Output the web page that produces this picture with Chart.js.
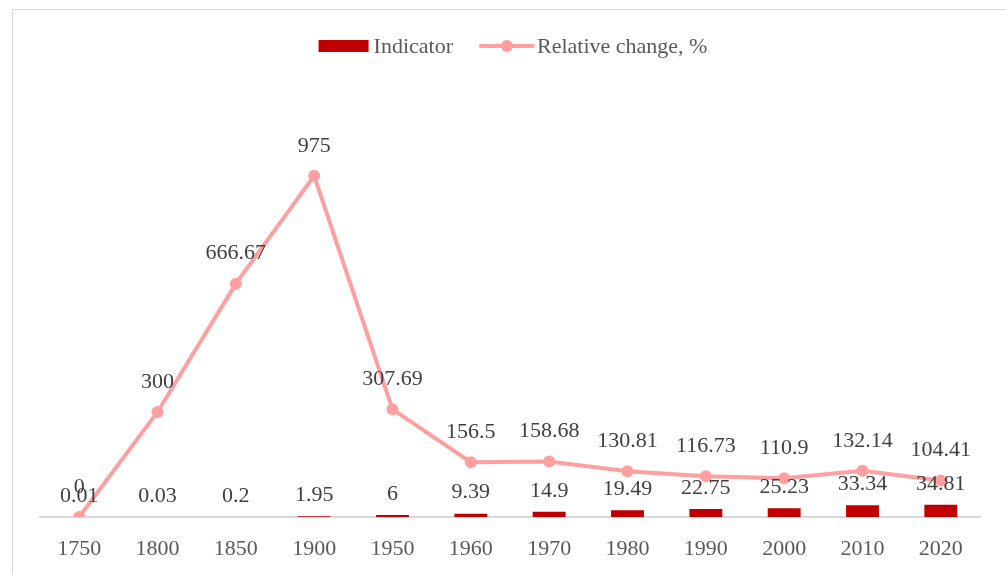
<!DOCTYPE html>
<html>
<head>
<meta charset="utf-8">
<script src="https://cdn.jsdelivr.net/npm/chart.js@4.4.0/dist/chart.umd.min.js"></script>
<style>
  html, body { margin: 0; padding: 0; background: #ffffff; }
  #wrap { width: 1006px; height: 575px; }
</style>
</head>
<body>
<div id="wrap"><canvas id="grafico" width="1006" height="575"></canvas></div>
<script>
const anos = ["1750", "1800", "1850", "1900", "1950", "1960", "1970", "1980", "1990", "2000", "2010", "2020"];
const indicador = [0.01, 0.03, 0.2, 1.95, 6, 9.39, 14.9, 19.49, 22.75, 25.23, 33.34, 34.81];
const variacao = [0, 300, 666.67, 975, 307.69, 156.5, 158.68, 130.81, 116.73, 110.9, 132.14, 104.41];
const nomes = ["Indicator", "Relative change, %"];

const corBarra = "#C00000";
const corLinha = "#FF9F9F";
const corTexto = "#595959";
const corRotulo = "#404040";
const fonte = '"Liberation Serif", "Times New Roman", serif';
const tamanho = 22;

// moldura cinza em volta do grafico
const moldura = {
  id: "moldura",
  beforeDraw(chart) {
    const ctx = chart.ctx;
    ctx.save();
    ctx.strokeStyle = "#d9d9d9";
    ctx.lineWidth = 1;
    ctx.strokeRect(12.5, 9.5, 1100, 700);
    ctx.restore();
  },
};

// rotulos com os valores em cima de cada ponto / barra
const rotulos = {
  id: "rotulos",
  afterDatasetsDraw(chart) {
    const ctx = chart.ctx;
    ctx.save();
    ctx.font = `${tamanho}px ${fonte}`;
    ctx.fillStyle = corRotulo;
    ctx.textAlign = "center";
    ctx.textBaseline = "middle";
    chart.data.datasets.forEach((ds, i) => {
      const meta = chart.getDatasetMeta(i);
      meta.data.forEach((el, j) => {
        const desloc = ds.type === "line" ? 30 : 21;
        ctx.fillText(String(ds.data[j]), el.x, el.y - desloc);
      });
    });
    ctx.restore();
  },
};

// legenda desenhada na mao (linha com marcador no meio)
const legenda = {
  id: "legenda",
  afterDraw(chart) {
    const ctx = chart.ctx;
    ctx.save();
    ctx.font = `${tamanho}px ${fonte}`;
    ctx.textBaseline = "middle";
    ctx.textAlign = "left";
    const w1 = ctx.measureText(nomes[0]).width;
    const w2 = ctx.measureText(nomes[1]).width;
    const total = 50 + 5 + w1 + 28 + 52 + 4 + w2;
    let x = 513 - total / 2;
    const y = 46;

    ctx.fillStyle = corBarra;
    ctx.fillRect(x, y - 6, 50, 12);
    x += 55;
    ctx.fillStyle = corTexto;
    ctx.fillText(nomes[0], x, y + 1);
    x += w1 + 28;

    ctx.strokeStyle = corLinha;
    ctx.lineWidth = 4;
    ctx.lineCap = "round";
    ctx.beginPath();
    ctx.moveTo(x, y);
    ctx.lineTo(x + 52, y);
    ctx.stroke();
    ctx.fillStyle = corLinha;
    ctx.beginPath();
    ctx.arc(x + 26, y, 6, 0, Math.PI * 2);
    ctx.fill();
    x += 56;
    ctx.fillStyle = corTexto;
    ctx.fillText(nomes[1], x, y + 1);
    ctx.restore();
  },
};

const config = {
  data: {
    labels: anos,
    datasets: [
      {
        type: "bar",
        label: nomes[0],
        data: indicador,
        backgroundColor: corBarra,
        categoryPercentage: 1,
        barPercentage: 0.42,
        order: 1,
      },
      {
        type: "line",
        label: nomes[1],
        data: variacao,
        borderColor: corLinha,
        backgroundColor: corLinha,
        borderWidth: 4,
        pointRadius: 6,
        pointHoverRadius: 6,
        pointBorderWidth: 0,
        tension: 0,
        order: 0,
      },
    ],
  },
  options: {
    responsive: false,
    animation: false,
    devicePixelRatio: 1,
    layout: {
      padding: { left: 40, right: 26, top: 97, bottom: 0 },
    },
    scales: {
      x: {
        grid: { display: false, drawTicks: false },
        border: { display: true, color: "#d9d9d9", width: 2 },
        ticks: {
          color: corTexto,
          padding: 19,
          font: { size: tamanho, family: fonte },
        },
        afterFit(scale) {
          scale.height = 58;
        },
      },
      y: {
        display: false,
        min: 0,
        max: 1200,
      },
    },
    plugins: {
      legend: { display: false },
      tooltip: { enabled: false },
    },
  },
  plugins: [moldura, rotulos, legenda],
};

new Chart(document.getElementById("grafico"), config);
</script>
</body>
</html>
